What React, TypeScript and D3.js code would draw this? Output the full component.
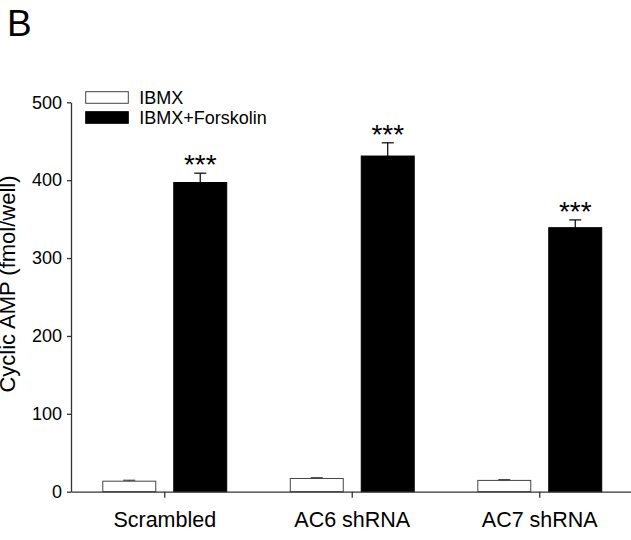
import React, { useEffect, useRef } from 'react';
import * as d3 from 'd3';

// values
const categories = ['Scrambled', 'AC6 shRNA', 'AC7 shRNA'];
const seriesNames = ['IBMX', 'IBMX+Forskolin'];
const ibmxMeans = [13.5, 17, 14.5];
const ibmxErrors = [1.2, 1, 1];
const forskolinMeans = [397, 431, 339];
const forskolinErrors = [12, 17, 10];
const significance = ['***', '***', '***'];
const yTicks = [0, 100, 200, 300, 400, 500];

const W = 631;
const H = 540;
const FONT = 'Arial, "Liberation Sans", Helvetica, sans-serif';

const App = () => {
  const svgRef = useRef<SVGSVGElement>(null);

  useEffect(() => {
    document.body.style.margin = '0';
    const svg = d3.select(svgRef.current);
    svg.selectAll('*').remove();

    const margin = { top: 102.3, left: 71, bottom: 48.3 };
    const plotBottom = H - margin.bottom;

    const y = d3.scaleLinear().domain([0, 500]).range([plotBottom, margin.top]);

    const x0 = d3.scaleBand<string>()
      .domain(categories)
      .range([margin.left, margin.left + 562.5])
      .paddingInner(0.339)
      .paddingOuter(0.1695);

    const x1 = d3.scaleBand<string>()
      .domain(seriesNames)
      .range([0, x0.bandwidth()])
      .paddingInner(0.2535)
      .paddingOuter(0);

    const rows = categories.map((c, i) => ({
      category: c,
      stars: significance[i],
      bars: [
        { series: seriesNames[0], mean: ibmxMeans[i], err: ibmxErrors[i] },
        { series: seriesNames[1], mean: forskolinMeans[i], err: forskolinErrors[i] },
      ],
    }));

    const axisColor = '#333';

    // bars
    const group = svg.append('g')
      .selectAll('g')
      .data(rows)
      .enter().append('g')
      .attr('transform', d => `translate(${x0(d.category)},0)`);

    group.selectAll('rect')
      .data(d => d.bars)
      .enter().append('rect')
      .attr('x', d => x1(d.series)!)
      .attr('y', d => y(d.mean))
      .attr('width', x1.bandwidth())
      .attr('height', d => y(0) - y(d.mean))
      .style('fill', d => (d.series === seriesNames[0] ? '#fff' : '#000'))
      .style('stroke', d => (d.series === seriesNames[0] ? '#444' : '#000'))
      .style('stroke-width', 1);

    // error bars (upper only)
    const capHalf = 6;
    const err = group.selectAll('g.err')
      .data(d => d.bars)
      .enter().append('g')
      .attr('class', 'err')
      .style('stroke', d => (d.series === seriesNames[0] ? '#444' : '#000'))
      .style('stroke-width', 1.2);

    err.append('line')
      .attr('x1', d => x1(d.series)! + x1.bandwidth() / 2)
      .attr('x2', d => x1(d.series)! + x1.bandwidth() / 2)
      .attr('y1', d => y(d.mean))
      .attr('y2', d => y(d.mean + d.err));

    err.append('line')
      .attr('x1', d => x1(d.series)! + x1.bandwidth() / 2 - capHalf)
      .attr('x2', d => x1(d.series)! + x1.bandwidth() / 2 + capHalf)
      .attr('y1', d => y(d.mean + d.err))
      .attr('y2', d => y(d.mean + d.err));

    // significance stars over the forskolin bars
    group.append('text')
      .attr('x', x1(seriesNames[1])! + x1.bandwidth() / 2)
      .attr('y', d => y(d.bars[1].mean + d.bars[1].err) + 1)
      .attr('text-anchor', 'middle')
      .style('font-family', FONT)
      .style('font-size', '28px')
      .text(d => d.stars);

    // y axis
    const yAxis = svg.append('g')
      .attr('transform', `translate(${margin.left},0)`)
      .call(d3.axisLeft(y).tickValues(yTicks).tickSize(4).tickSizeOuter(0).tickPadding(5));
    yAxis.selectAll('path, line').style('stroke', axisColor).style('stroke-width', 1.3);
    yAxis.selectAll('text')
      .style('font-family', FONT)
      .style('font-size', '18px')
      .style('fill', '#000');

    // x axis
    const xAxis = svg.append('g')
      .attr('transform', `translate(0,${y(0)})`)
      .call(d3.axisBottom(x0).tickSize(6).tickSizeOuter(0).tickPadding(14));
    xAxis.selectAll('path, line').style('stroke', axisColor).style('stroke-width', 1.3);
    xAxis.selectAll('text')
      .style('font-family', FONT)
      .style('font-size', '21.5px')
      .style('fill', '#000');

    // y axis title
    svg.append('text')
      .attr('transform', `translate(15,${284}) rotate(-90)`)
      .attr('text-anchor', 'middle')
      .style('font-family', FONT)
      .style('font-size', '22px')
      .text('Cyclic AMP (fmol/well)');

    // panel letter
    svg.append('text')
      .attr('x', 7)
      .attr('y', 36)
      .style('font-family', FONT)
      .style('font-size', '37px')
      .text('B');

    // legend
    const legend = svg.append('g').attr('transform', 'translate(85.7,91.7)');
    seriesNames.forEach((s, i) => {
      legend.append('rect')
        .attr('x', 0)
        .attr('y', i * 20)
        .attr('width', 42.6)
        .attr('height', 11.6)
        .style('fill', i === 0 ? '#fff' : '#000')
        .style('stroke', i === 0 ? '#444' : '#000')
        .style('stroke-width', 1);
      legend.append('text')
        .attr('x', 53.6)
        .attr('y', i * 20 + 12.5)
        .style('font-family', FONT)
        .style('font-size', '18px')
        .text(s);
    });
  }, []);

  return <svg ref={svgRef} width={W} height={H} style={{ display: 'block', background: '#fff' }} />;
};

export default App;
